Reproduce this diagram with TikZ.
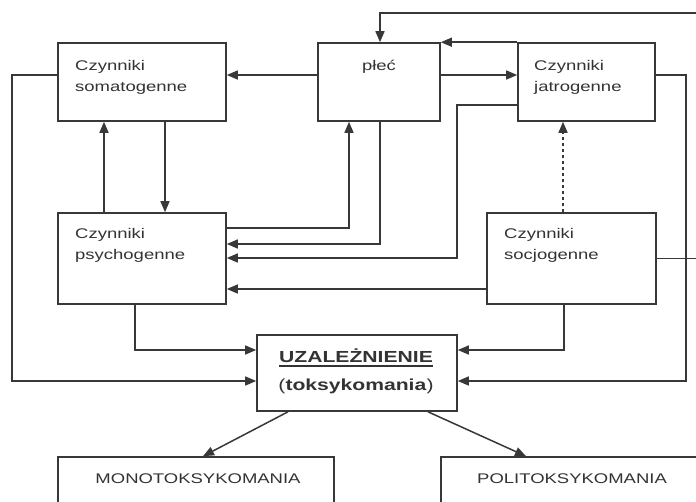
\documentclass[tikz,border=0pt]{standalone}
\usepackage{fontspec}
\setmainfont{Liberation Sans}[FakeStretch=1.32]
\usetikzlibrary{arrows.meta}
\definecolor{ln}{gray}{0.22}
\definecolor{tx}{gray}{0.2}
\newcommand\myul[1]{{\setbox0=\hbox{#1}\rlap{\rule[-4.8pt]{\wd0}{1.6pt}}\box0}}
\begin{document}
\begin{tikzpicture}[x=1pt,y=-1pt,
  box/.style={draw=ln, line width=1.6pt, rectangle, inner sep=0pt, fill=white},
  lab/.style={text=tx, inner sep=0pt, align=left, font=\fontsize{14}{21}\selectfont},
  arr/.style={draw=ln, line width=1.5pt, -{Triangle[length=11pt,width=9pt]}},
  dotarr/.style={arr, dash pattern=on 3pt off 3pt}]
\useasboundingbox (0,0) rectangle (696,501);
\clip (0,0) rectangle (696,501);
% boxes
\node[box, minimum width=168pt, minimum height=78pt] (soma) at (142,82) {};
\node[box, minimum width=122pt, minimum height=78pt] (plec) at (379,82) {};
\node[box, minimum width=137pt, minimum height=78pt] (jatro) at (586.5,82) {};
\node[box, minimum width=168pt, minimum height=91pt] (psych) at (142,258.5) {};
\node[box, minimum width=169pt, minimum height=91pt] (socj) at (571.5,258.5) {};
\node[box, minimum width=200pt, minimum height=76pt] (uzal) at (357,373) {};
\node[box, minimum width=276pt, minimum height=73pt] (mono) at (196,493.5) {};
\node[box, minimum width=270pt, minimum height=73pt] (poli) at (576,493.5) {};
% texts
\node[lab, anchor=north west] (somat) at (75,60) {Czynniki\\somatogenne};
\node[lab, anchor=base] (plect) at (379,70) {płeć};
\node[lab, anchor=north west] (jatrot) at (534,60) {Czynniki\\jatrogenne};
\node[lab, anchor=north west] (psycht) at (75,228) {Czynniki\\psychogenne};
\node[lab, anchor=north west] (socjt) at (504,228) {Czynniki\\socjogenne};
\node[lab, anchor=base, font=\fontsize{16}{20}\selectfont\bfseries] (uzalt) at (356,362) {\myul{UZALEŻNIENIE}};
\node[lab, anchor=base, font=\fontsize{16}{20}\selectfont] (toks) at (356,390) {(\textbf{toksykomania})};
\node[lab, anchor=base] (monot) at (198,483) {MONOTOKSYKOMANIA};
\node[lab, anchor=base] (polit) at (572,483) {POLITOKSYKOMANIA};
% connectors
\draw[arr] (plec.west |- 0,75) -- (soma.east |- 0,75);
\draw[arr] (plec.east |- 0,75) -- (jatro.west |- 0,75);
\draw[arr] (jatro.north west) -- (plec.north east);
\draw[arr] (socj.east) -- (703,258.5) -- (703,13) -- (380,13) -- (plec.north -| 380,0);
\draw[arr] (jatro.east |- 0,75) -- (686,75) -- (686,381) -- (uzal.east |- 0,381);
\draw[arr] (psych.north -| 104,0) -- (soma.south -| 104,0);
\draw[arr] (soma.south -| 165,0) -- (psych.north -| 165,0);
\draw[arr] (psych.east |- 0,228) -- (349,228) -- (plec.south -| 349,0);
\draw[arr] (plec.south -| 380,0) -- (380,244) -- (psych.east |- 0,244);
\draw[arr] (jatro.west |- 0,105) -- (457,105) -- (457,258) -- (psych.east |- 0,258);
\draw[arr] (socj.west |- 0,289) -- (psych.east |- 0,289);
\draw[dotarr] (socj.north -| 563,0) -- (jatro.south -| 563,0);
\draw[arr] (soma.west |- 0,75) -- (12,75) -- (12,381) -- (uzal.west |- 0,381);
\draw[arr] (psych.south -| 135,0) -- (135,350) -- (uzal.west |- 0,350);
\draw[arr] (socj.south -| 564,0) -- (564,350) -- (uzal.east |- 0,350);
\draw[arr] (uzal.south -| 288,0) -- (mono.north -| 203,0);
\draw[arr] (uzal.south -| 428,0) -- (poli.north -| 526,0);
\end{tikzpicture}
\end{document}
